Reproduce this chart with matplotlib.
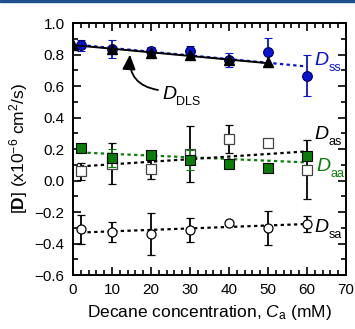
import numpy as np
import matplotlib.pyplot as plt
from matplotlib.patches import Rectangle, FancyArrowPatch
from matplotlib.ticker import MultipleLocator

plt.rcParams['font.family'] = ['Liberation Sans', 'DejaVu Sans']
plt.rcParams['mathtext.fontset'] = 'custom'
plt.rcParams['mathtext.rm'] = 'Liberation Sans'
plt.rcParams['mathtext.it'] = 'Liberation Sans:italic'
plt.rcParams['mathtext.bf'] = 'Liberation Sans:bold'

BLUE = "#0a14d2"
GREEN = "#0a7d0a"

# Decane concentration (mM)
conc = [2, 10, 20, 30, 40, 50, 60]
conc_dls = [0, 10, 20, 30, 40, 50]

# D_ss (blue circles)
d_ss = [0.858, 0.835, 0.82, 0.82, 0.767, 0.813, 0.665]
d_ss_err = [0.035, 0.055, 0.03, 0.035, 0.045, 0.09, 0.13]

# D_DLS (black triangles)
d_dls = [0.862, 0.835, 0.81, 0.795, 0.767, 0.75]

# D_aa (green filled squares)
d_aa = [0.206, 0.143, 0.164, 0.13, 0.105, 0.08, 0.153]
d_aa_err = [0.01, 0.06, 0.01, 0.065, 0.01, 0.01, 0.01]

# D_as (open squares)
d_as = [0.058, 0.108, 0.073, 0.169, 0.265, 0.238, 0.07]
d_as_err = [0.053, 0.13, 0.062, 0.18, 0.088, 0.02, 0.186]

# D_sa (open circles)
d_sa = [-0.308, -0.327, -0.338, -0.317, -0.27, -0.302, -0.276]
d_sa_err = [0.092, 0.065, 0.133, 0.076, 0.015, 0.11, 0.05]

# fit lines (end points)
fit_ss = ([2, 60], [0.86, 0.724])
fit_dls = ([0, 50], [0.86, 0.745])
fit_aa = ([2, 60], [0.178, 0.115])
fit_as = ([2, 60], [0.09, 0.185])
fit_sa = ([2, 60], [-0.33, -0.276])


def d_label(ax, x, y, sub, color):
    ax.text(x, y, "D", style="italic", fontsize=14, color=color,
            va="center", ha="left")
    ax.annotate(sub, xy=(x, y), xytext=(10.2, -5.5),
                textcoords="offset points", fontsize=9, color=color,
                va="center", ha="left")


fig = plt.figure(figsize=(3.55, 3.29), dpi=100)
ax = fig.add_axes([0.2056, 0.164, 0.769, 0.766])
fig.patches.append(Rectangle((0, 0.994), 1, 0.006, transform=fig.transFigure,
                             color="#1f4e8c", zorder=0))

dot = dict(ls=(0, (1.5, 1.5)), lw=1.6)
ax.plot(*fit_ss, color=BLUE, **dot, zorder=2)
ax.plot(*fit_aa, color=GREEN, **dot, zorder=2)
ax.plot(*fit_as, color="black", **dot, zorder=2)
ax.plot(*fit_sa, color="black", **dot, zorder=2)
ax.plot(*fit_dls, color="black", lw=1.4, zorder=5)

eb = dict(capsize=3.2, elinewidth=1.3, capthick=1.3, ls="none")
ax.errorbar(conc, d_sa, yerr=d_sa_err, fmt="o", ms=6.5, mfc="white",
            mec="black", mew=0.9, ecolor="black", zorder=3, **eb)
ax.errorbar(conc, d_as, yerr=d_as_err, fmt="s", ms=6.5, mfc="white",
            mec="#444444", mew=0.9, ecolor="black", zorder=3, **eb)
ax.errorbar(conc, d_aa, yerr=d_aa_err, fmt="s", ms=7, mfc=GREEN,
            mec="black", mew=0.8, ecolor=GREEN, zorder=4, **eb)
ax.errorbar(conc, d_ss, yerr=d_ss_err, fmt="o", ms=7, mfc=BLUE,
            mec="#000060", mew=0.8, ecolor=BLUE, zorder=4, **eb)
ax.plot(conc_dls, d_dls, "^", ms=7.5, color="black", zorder=6, ls="none")

arrow = FancyArrowPatch((21.8, 0.575), (14.6, 0.80),
                        arrowstyle="-|>,head_length=9,head_width=4",
                        connectionstyle="arc3,rad=-0.45",
                        color="black", lw=1.3, shrinkA=0, shrinkB=0,
                        zorder=7)
ax.add_patch(arrow)
d_label(ax, 22.8, 0.545, "DLS", "black")

d_label(ax, 62, 0.765, "ss", BLUE)
d_label(ax, 62, 0.295, "as", "black")
d_label(ax, 62.3, 0.09, "aa", GREEN)
d_label(ax, 62, -0.295, "sa", "black")

ax.set_xlim(0, 70)
ax.set_ylim(-0.6, 1.0)
ax.xaxis.set_major_locator(MultipleLocator(10))
ax.xaxis.set_minor_locator(MultipleLocator(2))
ax.yaxis.set_major_locator(MultipleLocator(0.2))
ax.yaxis.set_minor_locator(MultipleLocator(0.1))
ax.tick_params(which="both", direction="in", top=True, right=True,
               width=1.2, labelsize=11, pad=6)
ax.tick_params(which="major", length=6)
ax.tick_params(which="minor", length=3.5)
for s in ax.spines.values():
    s.set_linewidth(1.4)

ax.set_xlabel(r"Decane concentration, $C_{\rm a}$ (mM)", fontsize=12.5,
              labelpad=4)
ax.set_ylabel(r"[$\mathbf{D}$] (x10$^{-6}$ cm$^2$/s)", fontsize=12.5,
              labelpad=3)

fig.savefig("out.png", dpi=100)
